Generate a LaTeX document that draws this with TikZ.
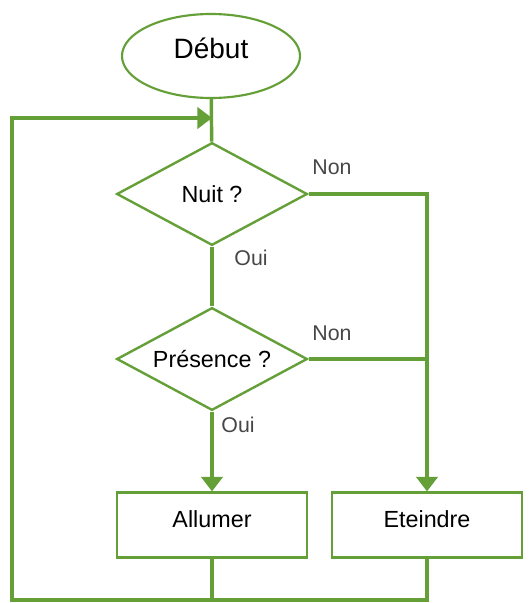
\documentclass[tikz,border=0pt]{standalone}
\usepackage{fontspec}
\setmainfont{Liberation Sans}
\usetikzlibrary{shapes.geometric, arrows.meta}
\definecolor{vert}{RGB}{100,160,55}
\definecolor{gristexte}{RGB}{70,70,70}
\tikzstyle{startstop} = [ellipse, minimum width=133.5pt, minimum height=63pt, inner sep=0pt, text height=15.5pt, text depth=12pt, text centered, draw=vert, line width=1.6pt, font=\fontsize{21}{24}\selectfont]
\tikzstyle{decision} = [diamond, aspect=1.85, minimum width=143pt, minimum height=77pt, inner sep=0pt, text centered, draw=vert, line width=1.8pt, font=\fontsize{17.5}{20}\selectfont]
\tikzstyle{process} = [rectangle, minimum width=142.5pt, minimum height=48.75pt, text height=13pt, text depth=10pt, text centered, draw=vert, line width=1.6pt, font=\fontsize{17.5}{20}\selectfont]
\tikzstyle{answer} = [inner sep=0pt, text=gristexte, font=\fontsize{16}{19}\selectfont]
\tikzstyle{line} = [draw=vert, line width=2.6pt]
\tikzstyle{arrow} = [line, -{Triangle[length=11pt,width=16pt]}]

\begin{document}
\begin{tikzpicture}[x=0.75pt, y=-0.75pt]
\useasboundingbox (0,0) rectangle (531,603);

\node (debut) [startstop] at (211,56) {Début};
\node (nuit) [decision] at (212,194) {Nuit ?};
\node (presence) [decision] at (212,359) {Présence ?};
\node (allumer) [process] at (212,525) {Allumer};
\node (eteindre) [process] at (427,525) {Eteindre};

\node (non1) [answer] at (332,167) {Non};
\node (oui1) [answer] at (251,258) {Oui};
\node (non2) [answer] at (332,333) {Non};
\node (oui2) [answer] at (238,425) {Oui};

\coordinate (retour) at (212,118);
\coordinate (coin) at (12,600);

\draw [line] (debut) -- (nuit);
\draw [line] (nuit) -- (presence);
\draw [arrow] (presence) -- (allumer);
\draw [arrow] (nuit.east) -| (eteindre.north);
\draw [line] (presence.east) -- (presence.east -| eteindre.north);
\draw [line] (allumer.south) -- (allumer.south |- coin);
\draw [arrow] (eteindre.south) |- (coin) |- (retour);

\end{tikzpicture}
\end{document}
